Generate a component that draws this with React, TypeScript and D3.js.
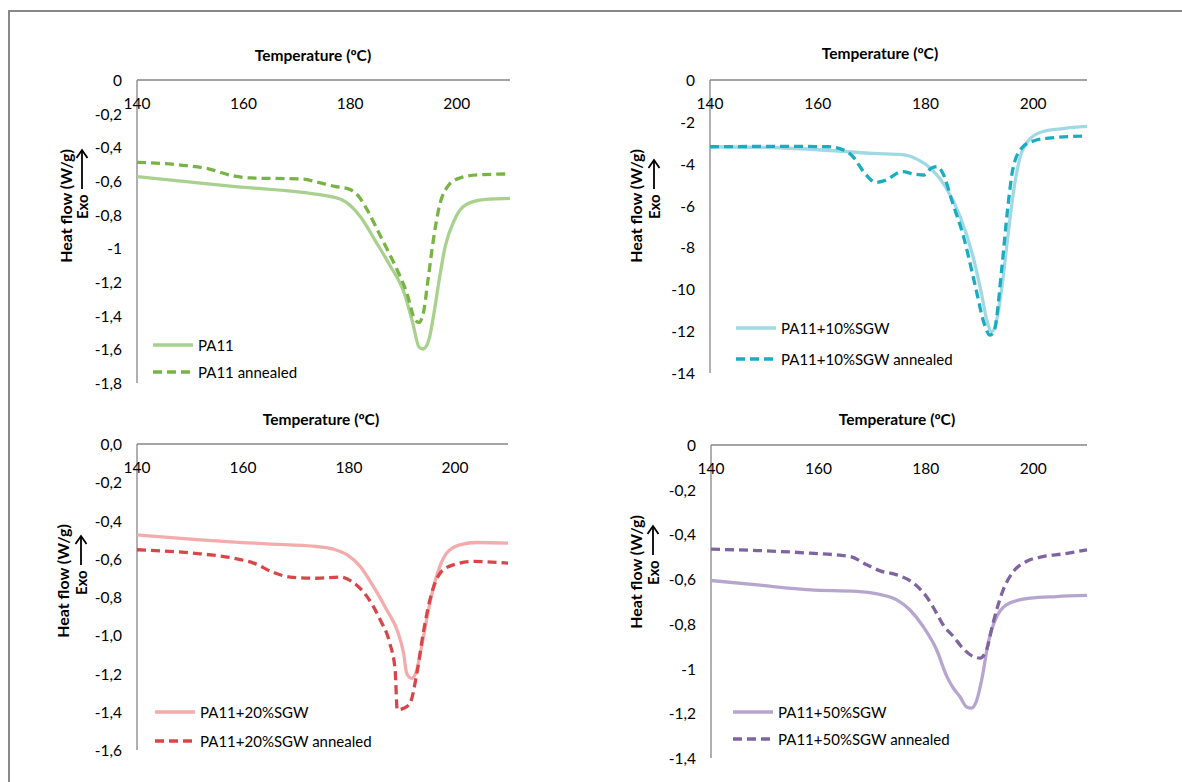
import React from "react";
import * as d3 from "d3";

// ---------- DATA (temperature °C, heat flow W/g) ----------
const xTicks = [140, 160, 180, 200];

const pa11: [number, number][] = [
  [140, -0.574], [157.5, -0.63], [177.1, -0.697], [179.3, -0.727], [182, -0.816], [184.7, -0.954],
  [187.5, -1.103], [190.2, -1.271], [191.8, -1.45], [192.9, -1.585], [193.7, -1.598], [194.8, -1.54],
  [195.6, -1.41], [196.7, -1.19], [197.8, -0.994], [199.5, -0.836], [201.1, -0.756], [203.8, -0.717],
  [206.6, -0.707], [210, -0.703],
];
const pa11Annealed: [number, number][] = [
  [140, -0.489], [149.3, -0.509], [153.6, -0.529], [157.5, -0.565], [161.3, -0.582], [171.1, -0.588],
  [173.8, -0.606], [177.1, -0.632], [179.8, -0.648], [181.5, -0.687], [183.1, -0.766], [185.8, -0.935],
  [188.6, -1.113], [190.7, -1.271], [192.1, -1.42], [192.9, -1.44], [193.7, -1.39], [194.6, -1.19],
  [195.6, -0.954], [196.7, -0.756], [198.4, -0.628], [200.6, -0.582], [203.8, -0.564], [210, -0.558],
];
const sgw10: [number, number][] = [
  [140, -3.19], [153.9, -3.25], [164.8, -3.41], [170.2, -3.51], [175.7, -3.57], [178.4, -3.78],
  [181.1, -4.25], [183.8, -5.13], [186.5, -6.56], [188.7, -8.3], [190.4, -10.2], [191.4, -11.48],
  [192.3, -12.03], [193.1, -11.63], [194.2, -9.89], [195.3, -7.5], [196.3, -5.44], [197.4, -3.86],
  [199.1, -2.9], [201.8, -2.46], [205.6, -2.32], [210, -2.22],
];
const sgw10Annealed: [number, number][] = [
  [140, -3.19], [153.9, -3.17], [162, -3.19], [164.8, -3.35], [166.4, -3.62], [168.6, -4.41],
  [170.8, -4.89], [172.4, -4.81], [175.7, -4.38], [177.8, -4.49], [179.7, -4.54], [181.1, -4.21],
  [182.2, -4.14], [183.3, -4.49], [184.9, -5.76], [187.1, -7.51], [189.3, -9.89], [190.9, -11.63],
  [192, -12.19], [192.8, -11.95], [194.2, -8.94], [195.3, -6.08], [196.3, -4.17], [198, -3.22],
  [200.2, -2.9], [202.9, -2.78], [210, -2.67],
];
const sgw20: [number, number][] = [
  [140, -0.475], [151.9, -0.501], [164.5, -0.522], [173.9, -0.536], [177.1, -0.55], [179.6, -0.579],
  [182.1, -0.64], [184.6, -0.745], [187.1, -0.867], [189.3, -0.99], [190.3, -1.094], [190.9, -1.2],
  [191.8, -1.225], [192.8, -1.18], [193.7, -1.06], [195, -0.867], [196.5, -0.693], [198.4, -0.571],
  [200.9, -0.527], [204.1, -0.515], [210, -0.518],
];
const sgw20Annealed: [number, number][] = [
  [140, -0.553], [151.9, -0.574], [158.2, -0.597], [162, -0.623], [165.8, -0.672], [168.9, -0.696],
  [173.9, -0.702], [178.3, -0.696], [180.8, -0.724], [183.4, -0.798], [185.9, -0.92], [187.7, -1.042],
  [188.7, -1.18], [189.1, -1.39], [190.3, -1.382], [191.5, -1.356], [192.8, -1.2], [194, -0.99],
  [195.6, -0.78], [197.2, -0.675], [199.7, -0.632], [203.5, -0.614], [210, -0.623],
];
const sgw50: [number, number][] = [
  [140, -0.606], [148.6, -0.626], [158.5, -0.648], [167.1, -0.655], [170.9, -0.666], [174.6, -0.693],
  [177, -0.737], [179.5, -0.812], [182, -0.916], [183.9, -1.035], [185.1, -1.087], [186.3, -1.124],
  [187.6, -1.172], [188.5, -1.177], [189.4, -1.147], [190.4, -1.05], [191.6, -0.886], [193.2, -0.767],
  [195.6, -0.707], [199.4, -0.685], [204.3, -0.678], [210, -0.673],
];
const sgw50Annealed: [number, number][] = [
  [140, -0.466], [148.6, -0.472], [158.5, -0.484], [165.9, -0.499], [169, -0.536], [171.5, -0.563],
  [174.6, -0.581], [177.7, -0.618], [180.1, -0.678], [182, -0.752], [183.2, -0.804], [185.1, -0.856],
  [186.9, -0.909], [188.8, -0.946], [190.1, -0.953], [191.3, -0.916], [192.5, -0.797], [194.4, -0.648],
  [196.3, -0.566], [198.7, -0.521], [201.8, -0.499], [205.6, -0.487], [210, -0.469],
];

const yTicks1 = [0, -0.2, -0.4, -0.6, -0.8, -1, -1.2, -1.4, -1.6, -1.8];
const yLabels1 = ["0", "-0,2", "-0,4", "-0,6", "-0,8", "-1", "-1,2", "-1,4", "-1,6", "-1,8"];
const yTicks2 = [0, -2, -4, -6, -8, -10, -12, -14];
const yLabels2 = ["0", "-2", "-4", "-6", "-8", "-10", "-12", "-14"];
const yTicks3 = [0, -0.2, -0.4, -0.6, -0.8, -1, -1.2, -1.4, -1.6];
const yLabels3 = ["0,0", "-0,2", "-0,4", "-0,6", "-0,8", "-1,0", "-1,2", "-1,4", "-1,6"];
const yTicks4 = [0, -0.2, -0.4, -0.6, -0.8, -1, -1.2, -1.4];
const yLabels4 = ["0", "-0,2", "-0,4", "-0,6", "-0,8", "-1", "-1,2", "-1,4"];

const names1 = ["PA11", "PA11 annealed"];
const names2 = ["PA11+10%SGW", "PA11+10%SGW annealed"];
const names3 = ["PA11+20%SGW", "PA11+20%SGW annealed"];
const names4 = ["PA11+50%SGW", "PA11+50%SGW annealed"];

const FONT = "Lato, 'Open Sans', sans-serif";
const AXIS = "#868686";
const DASH = "9,5";

type PanelProps = {
  left: number; right: number; top: number; bottom: number; yMin: number;
  yTicks: number[]; yLabels: string[];
  solid: [number, number][]; dashed: [number, number][];
  names: string[]; solidColor: string; dashedColor: string;
  titleX: number; titleY: number;
  hfX: number; hfCY: number; exoX: number; exoBottom: number; arrowTop: number;
  legX: number; legY: number; legGap: number;
};

function Panel(p: PanelProps) {
  const x = d3.scaleLinear().domain([140, 210]).range([p.left, p.right]);
  const y = d3.scaleLinear().domain([0, p.yMin]).range([p.top, p.bottom]);
  const line = d3.line<[number, number]>().x((d) => x(d[0])).y((d) => y(d[1])).curve(d3.curveMonotoneX);
  return (
    <g>
      <text x={p.titleX} y={p.titleY} textAnchor="middle" dominantBaseline="central"
        fontFamily={FONT} fontWeight="bold" fontSize={15.5} fill="#000">Temperature (ºC)</text>
      <line x1={x(140)} x2={x(210)} y1={y(0)} y2={y(0)} stroke={AXIS} strokeWidth={1.3} />
      <line x1={x(140)} x2={x(140)} y1={y(0)} y2={y(p.yMin)} stroke={AXIS} strokeWidth={1.3} />
      {xTicks.map((t) => (
        <text key={t} x={x(t)} y={y(0) + 23} textAnchor="middle" dominantBaseline="central"
          fontFamily={FONT} fontSize={15.5} fill="#000">{t}</text>
      ))}
      {p.yTicks.map((t, i) => (
        <text key={t} x={p.left - 15} y={y(t)} textAnchor="end" dominantBaseline="central"
          fontFamily={FONT} fontSize={15.5} fill="#000">{p.yLabels[i]}</text>
      ))}
      <text transform={`translate(${p.hfX},${p.hfCY}) rotate(-90)`} textAnchor="middle" dominantBaseline="central"
        fontFamily={FONT} fontWeight="bold" fontSize={16} fill="#000">Heat flow (W/g)</text>
      <text transform={`translate(${p.exoX},${p.exoBottom}) rotate(-90)`} textAnchor="start" dominantBaseline="central"
        fontFamily={FONT} fontWeight="bold" fontSize={15} fill="#000">Exo</text>
      <line x1={p.exoX} x2={p.exoX} y1={p.exoBottom - 30} y2={p.arrowTop + 1} stroke="#000" strokeWidth={1.8} />
      <path d={`M${p.exoX - 5.5},${p.arrowTop + 8} L${p.exoX},${p.arrowTop} L${p.exoX + 5.5},${p.arrowTop + 8}`}
        fill="none" stroke="#000" strokeWidth={1.8} />
      <path d={line(p.solid) || ""} fill="none" stroke={p.solidColor} strokeWidth={3.3} />
      <path d={line(p.dashed) || ""} fill="none" stroke={p.dashedColor} strokeWidth={3.3} strokeDasharray={DASH} />
      <line x1={p.legX} x2={p.legX + 40} y1={p.legY} y2={p.legY} stroke={p.solidColor} strokeWidth={3.3} />
      <text x={p.legX + 45} y={p.legY} dominantBaseline="central" fontFamily={FONT} fontSize={15} fill="#000">{p.names[0]}</text>
      <line x1={p.legX} x2={p.legX + 40} y1={p.legY + p.legGap} y2={p.legY + p.legGap} stroke={p.dashedColor}
        strokeWidth={3.3} strokeDasharray={DASH} />
      <text x={p.legX + 45} y={p.legY + p.legGap} dominantBaseline="central" fontFamily={FONT} fontSize={15} fill="#000">{p.names[1]}</text>
    </g>
  );
}

export default function App() {
  return (
    <svg width={1182} height={782} style={{ position: "absolute", left: 0, top: 0, background: "#fff" }}>
      <rect x={0} y={0} width={1182} height={782} fill="#fff" />
      <line x1={8} x2={1182} y1={11} y2={11} stroke="#888" strokeWidth={2} />
      <line x1={9} x2={9} y1={10} y2={782} stroke="#888" strokeWidth={2} />
      <Panel left={137} right={510} top={80} bottom={383} yMin={-1.8} yTicks={yTicks1} yLabels={yLabels1}
        solid={pa11} dashed={pa11Annealed} names={names1} solidColor="#A9D18E" dashedColor="#78B443"
        titleX={313} titleY={55} hfX={65} hfCY={206} exoX={82} exoBottom={219} arrowTop={150}
        legX={153} legY={345} legGap={27} />
      <Panel left={710} right={1087} top={80} bottom={373} yMin={-14} yTicks={yTicks2} yLabels={yLabels2}
        solid={sgw10} dashed={sgw10Annealed} names={names2} solidColor="#A0D9E4" dashedColor="#19ADC2"
        titleX={880} titleY={53} hfX={635} hfCY={206} exoX={654} exoBottom={219} arrowTop={160}
        legX={736} legY={328} legGap={31} />
      <Panel left={137} right={508} top={444} bottom={750} yMin={-1.6} yTicks={yTicks3} yLabels={yLabels3}
        solid={sgw20} dashed={sgw20Annealed} names={names3} solidColor="#F3ABAB" dashedColor="#D9464A"
        titleX={321} titleY={419} hfX={62} hfCY={581} exoX={81} exoBottom={595} arrowTop={536}
        legX={155} legY={712} legGap={29} />
      <Panel left={711} right={1087} top={445} bottom={758} yMin={-1.4} yTicks={yTicks4} yLabels={yLabels4}
        solid={sgw50} dashed={sgw50Annealed} names={names4} solidColor="#B6A5CE" dashedColor="#8064A2"
        titleX={897} titleY={419} hfX={635} hfCY={572} exoX={653} exoBottom={585} arrowTop={526}
        legX={733} legY={712} legGap={27} />
    </svg>
  );
}
